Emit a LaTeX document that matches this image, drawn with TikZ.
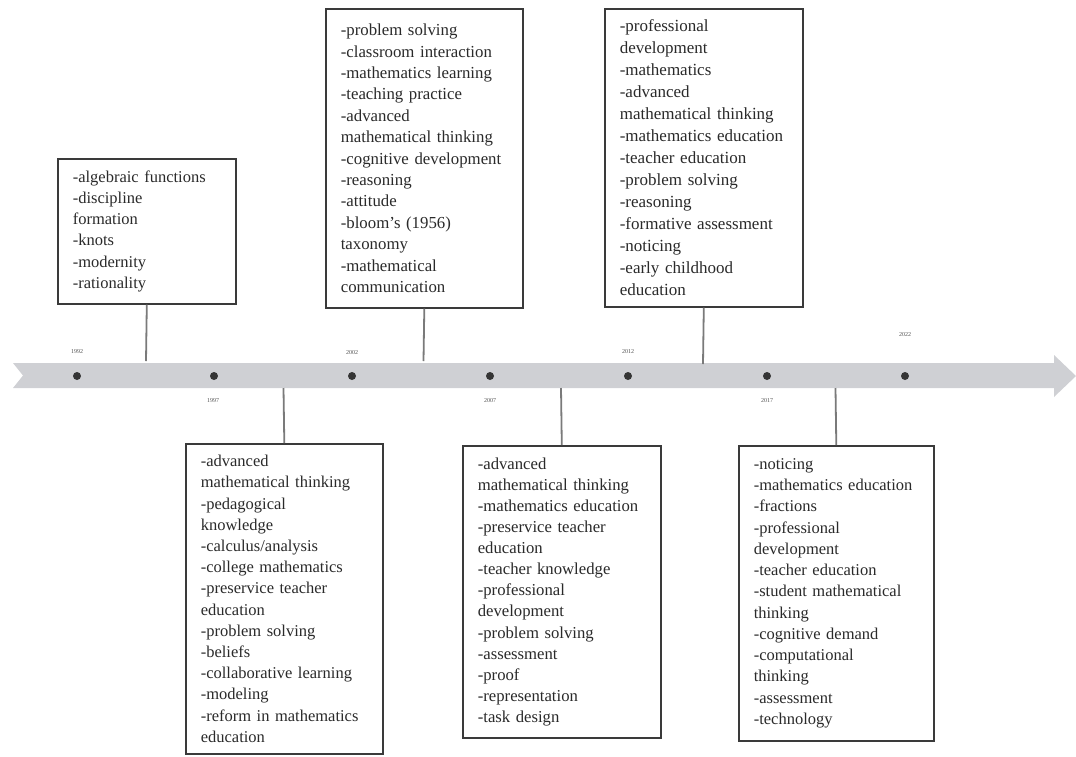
\documentclass[tikz,border=0pt]{standalone}
\usepackage{fontspec}
\setmainfont{Liberation Serif}
\definecolor{bandc}{HTML}{CFD0D4}
\definecolor{boxc}{HTML}{3A3A3A}
\definecolor{txtc}{HTML}{2A2A2A}
\definecolor{dotc}{HTML}{353535}
\definecolor{linec}{HTML}{7A7A7A}
\definecolor{yearc}{HTML}{505050}
\tikzset{
  kw/.style n args={2}{draw=boxc, line width=1.6pt, fill=white, anchor=north west,
    inner xsep=15pt, inner ysep=0pt, align=left, text=txtc,
    font=\fontsize{#1}{#2}\selectfont},
  dotnode/.style={circle, fill=dotc, inner sep=0pt, minimum size=8pt},
  year/.style={text=yearc, font=\fontsize{6}{7}\selectfont, inner sep=0pt},
  conn/.style={draw=linec, line width=1.8pt}
}
\begin{document}
\begin{tikzpicture}[x=1pt,y=-1pt]
\useasboundingbox (0,0) rectangle (1076,756);
% timeline band
\fill[bandc] (13,363) -- (1054,363) -- (1054,355) -- (1076,376) -- (1054,397)
  -- (1054,388) -- (13,388) -- (23,375.5) -- cycle;
% dots
\node[dotnode] (d1) at (77,376) {};
\node[dotnode] (d2) at (214,376) {};
\node[dotnode] (d3) at (352,376) {};
\node[dotnode] (d4) at (490,376) {};
\node[dotnode] (d5) at (628,376) {};
\node[dotnode] (d6) at (767,376) {};
\node[dotnode] (d7) at (905,376) {};
% years
\node[year] (y1) at (77,352) {1992};
\node[year] (y2) at (213,401) {1997};
\node[year] (y3) at (352,353) {2002};
\node[year] (y4) at (490,401) {2007};
\node[year] (y5) at (628,352) {2012};
\node[year] (y6) at (767,401) {2017};
\node[year] (y7) at (905,335) {2022};
% boxes
\node[kw={16.5}{21.3}, text width=148pt, minimum height=145pt] (b1) at (57,158)
  {-algebraic functions\\-discipline\\formation\\-knots\\-modernity\\-rationality};
\node[kw={16.8}{21.4}, text width=167pt, minimum height=299pt] (b2) at (325,8)
  {-problem solving\\-classroom interaction\\-mathematics learning\\-teaching practice\\-advanced\\mathematical thinking\\-cognitive development\\-reasoning\\-attitude\\-bloom’s (1956)\\taxonomy\\-mathematical\\communication};
\node[kw={17}{22}, text width=168pt, minimum height=298pt] (b3) at (604,8)
  {-professional\\development\\-mathematics\\-advanced\\mathematical thinking\\-mathematics education\\-teacher education\\-problem solving\\-reasoning\\-formative assessment\\-noticing\\-early childhood\\education};
\node[kw={16.5}{21.2}, text width=167pt, minimum height=310pt] (b4) at (185,443)
  {-advanced\\mathematical thinking\\-pedagogical\\knowledge\\-calculus/analysis\\-college mathematics\\-preservice teacher\\education\\-problem solving\\-beliefs\\-collaborative learning\\-modeling\\-reform in mathematics\\education};
\node[kw={16.7}{21.1}, text width=168pt, minimum height=292pt] (b5) at (462,445)
  {-advanced\\mathematical thinking\\-mathematics education\\-preservice teacher\\education\\-teacher knowledge\\-professional\\development\\-problem solving\\-assessment\\-proof\\-representation\\-task design};
\node[kw={16.5}{21.25}, text width=165pt, minimum height=295pt] (b6) at (738,445)
  {-noticing\\-mathematics education\\-fractions\\-professional\\development\\-teacher education\\-student mathematical\\thinking\\-cognitive demand\\-computational\\thinking\\-assessment\\-technology};
% connectors
\coordinate (c1) at (146,361);
\coordinate (c2) at (423.5,361);
\coordinate (c3) at (703,364);
\coordinate (c4) at (283.5,388);
\coordinate (c5) at (561,388);
\coordinate (c6) at (835.5,388);
\draw[conn] (b1.south) -- (c1);
\draw[conn] (b2.south) -- (c2);
\draw[conn] (b3.south) -- (c3);
\draw[conn] (c4) -- (b4.north);
\draw[conn] (c5) -- (b5.north);
\draw[conn] (c6) -- (b6.north);
\end{tikzpicture}
\end{document}
